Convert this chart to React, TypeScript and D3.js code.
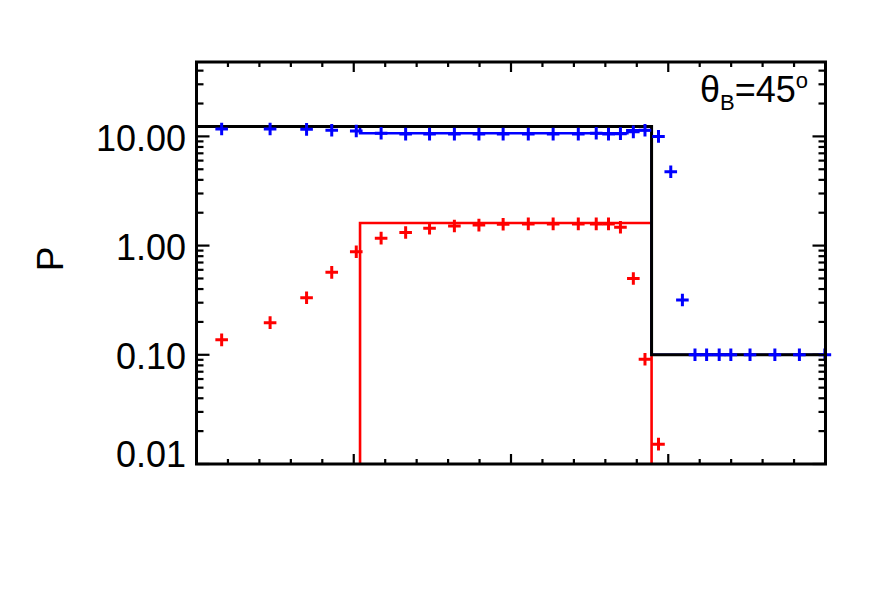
import React from "react";
import * as d3 from "d3";

// sample positions (shared by both series) and measured P values
const xs = [0.8, 2.34, 3.5, 4.3, 5.08, 5.87, 6.65, 7.41, 8.2, 8.98, 9.75, 10.55, 11.34, 12.14, 12.71,
  13.1, 13.48, 13.89, 14.26, 14.69, 15.08, 15.45, 15.85, 16.22, 16.62, 16.99, 17.6, 18.39, 19.17, 19.98];
const blueP = [11.7, 11.7, 11.6, 11.4, 11.2, 10.7, 10.5, 10.5, 10.5, 10.5, 10.5, 10.5, 10.5, 10.5, 10.7,
  10.5, 10.6, 11.0, 11.4, 10.0, 4.75, 0.318, 0.1, 0.1, 0.1, 0.1, 0.1, 0.1, 0.1, 0.1];
const redP = [0.137, 0.197, 0.333, 0.569, 0.879, 1.17, 1.32, 1.44, 1.51, 1.54, 1.57, 1.58, 1.58, 1.58, 1.58,
  1.58, 1.47, 0.5, 0.091, 0.0152];

// step models
const blackStepX = [0, 14.47, 20];
const blackStepP = [12.3, 0.1, 0.1];
const redStepX = [5.2, 5.2, 14.47];
const redStepP = [0.01, 1.61, 0.01];
const blueStepX = [0, 5.2, 13.7, 14.47, 20];
const blueStepP = [12.3, 10.7, 11.4, 0.1, 0.1];

const yTickVals = [0.01, 0.1, 1, 10];
const yTickLabels = ["0.01", "0.10", "1.00", "10.00"];

const W = 886, H = 590;
const m = { left: 196.5, right: 825.5, top: 62, bottom: 464 };
const font = "'Liberation Sans', Arial, Helvetica, sans-serif";

const App = () => {
  const x = d3.scaleLinear().domain([0, 20]).range([m.left, m.right]);
  const y = d3.scaleLog().domain([0.01, 48]).range([m.bottom, m.top]);

  const step = d3.line<[number, number]>().x(d => x(d[0])).y(d => y(d[1])).curve(d3.curveStepAfter);
  const pts = (a: number[], b: number[]) => a.map((v, i) => [v, b[i]] as [number, number]);

  const plus = (cx: number, cy: number, s = 6.3) => `M${cx - s},${cy}H${cx + s}M${cx},${cy - s}V${cy + s}`;

  // log minor ticks
  const yMinor: number[] = [];
  [0.01, 0.1, 1, 10].forEach(d => { for (let k = 2; k <= 9; k++) if (d * k <= 48) yMinor.push(d * k); });
  const xMinor = d3.range(0, 21, 1).filter(v => v % 5 !== 0);
  const xMajor = [5, 10, 15];

  return (
    <svg width={W} height={H} style={{ position: "absolute", left: 0, top: 0, background: "#fff" }}
      fontFamily={font}>
      <defs>
        <clipPath id="plot">
          <rect x={m.left} y={m.top} width={m.right - m.left} height={m.bottom - m.top} />
        </clipPath>
      </defs>
      <g clipPath="url(#plot)" fill="none">
        <path d={step(pts(redStepX, redStepP)) || ""} stroke="#ff0000" strokeWidth={2.6} />
        <path d={step(pts(blueStepX, blueStepP)) || ""} stroke="#0000ff" strokeWidth={2.6} />
        <path d={step(pts(blackStepX, blackStepP)) || ""} stroke="#000" strokeWidth={3} />
      </g>
      <g fill="none" strokeWidth={3}>
        {redP.map((p, i) => <path key={"r" + i} d={plus(x(xs[i]), y(p))} stroke="#ff0000" />)}
        {blueP.map((p, i) => <path key={"b" + i} d={plus(x(xs[i]), y(p))} stroke="#0000ff" />)}
      </g>
      {/* ticks */}
      <g stroke="#000" strokeWidth={2.2}>
        {yTickVals.map(v => (
          <g key={"ym" + v}>
            <line x1={m.left} x2={m.left + 13} y1={y(v)} y2={y(v)} />
            <line x1={m.right} x2={m.right - 13} y1={y(v)} y2={y(v)} />
          </g>
        ))}
        {yMinor.map(v => (
          <g key={"yn" + v}>
            <line x1={m.left} x2={m.left + 7} y1={y(v)} y2={y(v)} />
            <line x1={m.right} x2={m.right - 7} y1={y(v)} y2={y(v)} />
          </g>
        ))}
        {xMajor.map(v => (
          <g key={"xm" + v}>
            <line x1={x(v)} x2={x(v)} y1={m.bottom} y2={m.bottom - 10} />
            <line x1={x(v)} x2={x(v)} y1={m.top} y2={m.top + 10} />
          </g>
        ))}
        {xMinor.map(v => (
          <g key={"xn" + v}>
            <line x1={x(v)} x2={x(v)} y1={m.bottom} y2={m.bottom - 5} />
            <line x1={x(v)} x2={x(v)} y1={m.top} y2={m.top + 5} />
          </g>
        ))}
      </g>
      <rect x={m.left} y={m.top} width={m.right - m.left} height={m.bottom - m.top}
        fill="none" stroke="#000" strokeWidth={3} />
      {/* y labels */}
      <g fontSize={36} textAnchor="end" fill="#000">
        {yTickVals.map((v, i) => (
          <text key={"yl" + v} x={186} y={Math.min(y(v) + 14.5, m.bottom + 2.5)}>{yTickLabels[i]}</text>
        ))}
      </g>
      <text transform="translate(63,259) rotate(-90)" textAnchor="middle" fontSize={37}>P</text>
      <text x={700} y={101.5} fontSize={36}>
        θ<tspan fontSize={22} dy={8.5}>B</tspan><tspan dy={-8.5}>=45</tspan>
        <tspan fontSize={22} dy={-13.5}>o</tspan>
      </text>
    </svg>
  );
};

export default App;
